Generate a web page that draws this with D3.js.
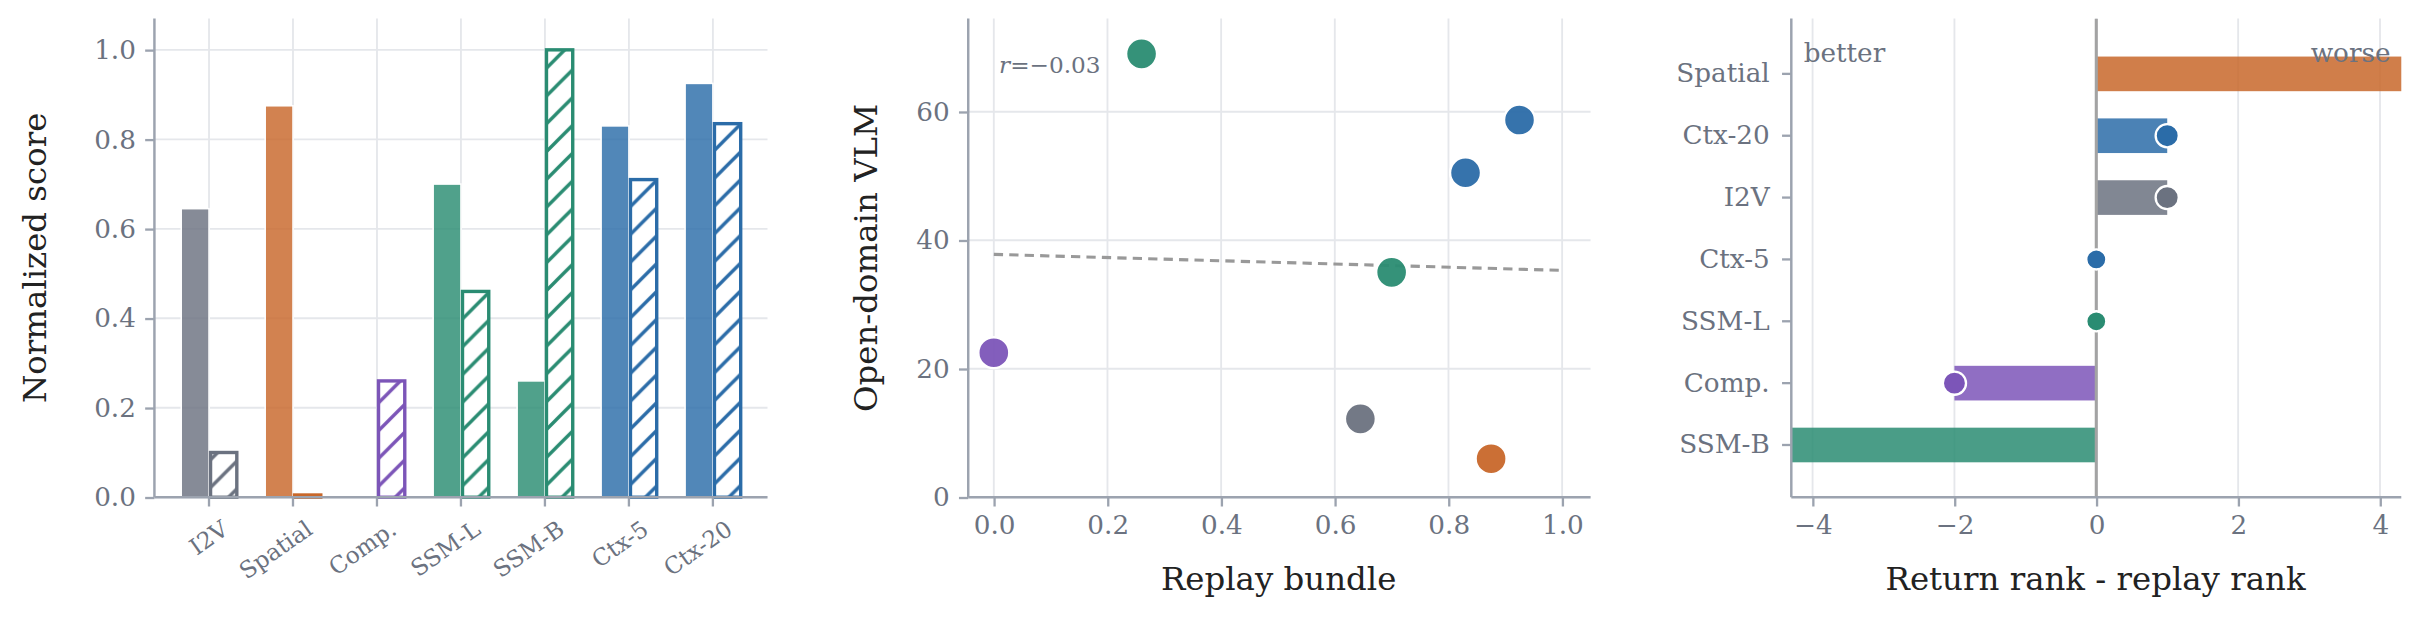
<!DOCTYPE html>
<html><head><meta charset="utf-8">
<script src="https://cdn.jsdelivr.net/npm/d3@7"></script>
<style>body{margin:0;background:#fff}svg{font-family:"DejaVu Serif",serif}</style>
</head><body>
<script>
// data
const models = ["I2V", "Spatial", "Comp.", "SSM-L", "SSM-B", "Ctx-5", "Ctx-20"];
const colors = ["#6b7280", "#c8672a", "#7c55b8", "#2a8c72", "#2a8c72", "#2b6ca8", "#2b6ca8"];
const replayScore = [0.645, 0.875, 0.0, 0.70, 0.26, 0.83, 0.925];
const vlmNorm = [0.10, 0.005, 0.26, 0.46, 1.0, 0.71, 0.835];
const vlmRaw = [12.2, 6.0, 22.5, 35.0, 69.0, 50.5, 58.7];
const fitLine = [[0, 37.8], [1, 35.3]];
const rankOrder = ["Spatial", "Ctx-20", "I2V", "Ctx-5", "SSM-L", "Comp.", "SSM-B"];
const rankDiff = [5, 1, 1, 0, 0, -2, -5];

const W = 2409, H = 629;
const svgRoot = d3.select("body").append("svg").attr("width", W).attr("height", H);
const defs = svgRoot.append("defs");
// layout below is in a 1560-wide frame, scaled up to the page
const svg = svgRoot.append("g").attr("transform", "scale(" + (W / 1560) + ")");
const tickCol = "#6b7280", spineCol = "#9ca3af", gridCol = "#e5e7eb";

function colorOf(m) { return colors[models.indexOf(m)]; }

function styleAxis(g) {
  g.attr("font-family", null).attr("font-size", null);
  g.selectAll(".domain").remove();
  g.selectAll("line").attr("stroke", spineCol).attr("stroke-width", 1.5);
  g.selectAll("text").attr("fill", tickCol).style("font-size", "17px");
}
function spines(g, x0, x1, y0, y1) {
  g.append("line").attr("x1", x0).attr("x2", x0).attr("y1", y0).attr("y2", y1).attr("stroke", spineCol).attr("stroke-width", 1.6);
  g.append("line").attr("x1", x0).attr("x2", x1).attr("y1", y1).attr("y2", y1).attr("stroke", spineCol).attr("stroke-width", 1.6);
}

// ---------- panel 1: bars ----------
{
  const g = svg.append("g");
  const x = d3.scaleBand().domain(models).range([100, 497]).paddingInner(0).paddingOuter(0.15);
  const y = d3.scaleLinear().domain([0, 1.07]).range([322, 12]);
  const bw = 18;
  g.append("g").selectAll("line").data(y.ticks(5)).join("line")
    .attr("x1", 100).attr("x2", 497).attr("y1", d => y(d)).attr("y2", d => y(d)).attr("stroke", gridCol).attr("stroke-width", 1.2);
  g.append("g").selectAll("line").data(models).join("line")
    .attr("x1", d => x(d) + x.bandwidth() / 2).attr("x2", d => x(d) + x.bandwidth() / 2)
    .attr("y1", 12).attr("y2", 322).attr("stroke", gridCol).attr("stroke-width", 1.2);
  models.forEach((m, i) => {
    const p = defs.append("pattern").attr("id", "hatch" + i).attr("patternUnits", "userSpaceOnUse")
      .attr("width", 18).attr("height", 18).attr("patternTransform", "translate(0,2)");
    p.append("rect").attr("width", 18).attr("height", 18).attr("fill", "#fff");
    p.append("path").attr("d", "M-2,20 L20,-2 M-2,2 L2,-2 M16,20 L20,16").attr("stroke", colors[i]).attr("stroke-width", 2.2);
  });
  const cx = d => x(d) + x.bandwidth() / 2;
  g.selectAll(".solid").data(models).join("rect")
    .attr("x", d => cx(d) - bw).attr("width", bw)
    .attr("y", (d, i) => y(replayScore[i])).attr("height", (d, i) => y(0) - y(replayScore[i]))
    .attr("fill", (d, i) => colors[i]).attr("fill-opacity", 0.82).attr("stroke", "#fff").attr("stroke-width", 1);
  g.selectAll(".hatch").data(models).join("rect")
    .attr("x", d => cx(d) + 1).attr("width", bw - 1)
    .attr("y", (d, i) => y(vlmNorm[i])).attr("height", (d, i) => y(0) - y(vlmNorm[i]))
    .attr("fill", (d, i) => "url(#hatch" + i + ")").attr("stroke", (d, i) => colors[i]).attr("stroke-width", 2.2);
  const ya = g.append("g").attr("transform", "translate(100,0)").call(d3.axisLeft(y).ticks(5).tickFormat(d3.format(".1f")).tickSize(6).tickPadding(6));
  styleAxis(ya);
  const xa = g.append("g").attr("transform", "translate(0,322)").call(d3.axisBottom(x).tickSize(6).tickPadding(4));
  styleAxis(xa);
  xa.selectAll("text").attr("text-anchor", "end").style("font-size", "15px").attr("transform", "rotate(-35) translate(-2,6)");
  spines(g, 100, 497, 12, 322);
  g.append("text").attr("transform", "translate(30,167) rotate(-90)").attr("text-anchor", "middle")
    .attr("fill", "#222").style("font-size", "21px").text("Normalized score");
}

// ---------- panel 2: scatter ----------
{
  const g = svg.append("g");
  const x = d3.scaleLinear().domain([-0.045, 1.05]).range([627, 1030]);
  const y = d3.scaleLinear().domain([0, 74.5]).range([322, 12]);
  g.selectAll(".gx").data(x.ticks(5)).join("line")
    .attr("x1", d => x(d)).attr("x2", d => x(d)).attr("y1", 12).attr("y2", 322).attr("stroke", gridCol).attr("stroke-width", 1.2);
  g.selectAll(".gy").data([0, 20, 40, 60]).join("line")
    .attr("x1", 627).attr("x2", 1030).attr("y1", d => y(d)).attr("y2", d => y(d)).attr("stroke", gridCol).attr("stroke-width", 1.2);
  g.append("path").datum(fitLine).attr("d", d3.line().x(d => x(d[0])).y(d => y(d[1])))
    .attr("stroke", "#999").attr("stroke-width", 2).attr("stroke-dasharray", "6,4").attr("fill", "none");
  g.selectAll("circle").data(models).join("circle")
    .attr("cx", (d, i) => x(replayScore[i])).attr("cy", (d, i) => y(vlmRaw[i])).attr("r", 10)
    .attr("fill", (d, i) => colors[i]).attr("fill-opacity", 0.95).attr("stroke", "#fff").attr("stroke-width", 1.5);
  const ya = g.append("g").attr("transform", "translate(627,0)").call(d3.axisLeft(y).tickValues([0, 20, 40, 60]).tickSize(6).tickPadding(6));
  styleAxis(ya);
  const xa = g.append("g").attr("transform", "translate(0,322)").call(d3.axisBottom(x).ticks(5).tickFormat(d3.format(".1f")).tickSize(6).tickPadding(6));
  styleAxis(xa);
  spines(g, 627, 1030, 12, 322);
  g.append("text").attr("x", 647).attr("y", 47).attr("fill", tickCol).style("font-size", "15px")
    .html('<tspan font-style="italic">r</tspan>=\u22120.03');
  g.append("text").attr("transform", "translate(568,167) rotate(-90)").attr("text-anchor", "middle")
    .attr("fill", "#222").style("font-size", "21px").text("Open-domain VLM");
  g.append("text").attr("x", 828).attr("y", 382).attr("text-anchor", "middle")
    .attr("fill", "#222").style("font-size", "21px").text("Replay bundle");
}

// ---------- panel 3: rank diff ----------
{
  const g = svg.append("g");
  const x = d3.scaleLinear().domain([-4.3, 4.3]).range([1160, 1555]);
  const y = d3.scaleBand().domain(rankOrder).range([19, 317]).padding(0.44);
  defs.append("clipPath").attr("id", "clip3").append("rect").attr("x", 1160).attr("y", 12).attr("width", 395).attr("height", 310);
  g.selectAll(".gx").data([-4, -2, 0, 2, 4]).join("line")
    .attr("x1", d => x(d)).attr("x2", d => x(d)).attr("y1", 12).attr("y2", 322).attr("stroke", gridCol).attr("stroke-width", 1.2);
  const c = g.append("g").attr("clip-path", "url(#clip3)");
  c.selectAll("rect").data(rankOrder).join("rect")
    .attr("x", (d, i) => x(Math.min(0, rankDiff[i]))).attr("width", (d, i) => Math.abs(x(rankDiff[i]) - x(0)))
    .attr("y", d => y(d)).attr("height", y.bandwidth())
    .attr("fill", d => colorOf(d)).attr("fill-opacity", 0.85);
  c.append("line").attr("x1", x(0)).attr("x2", x(0)).attr("y1", 12).attr("y2", 322).attr("stroke", "#a3a3a3").attr("stroke-width", 2);
  c.selectAll("circle").data(rankOrder).join("circle")
    .attr("cx", (d, i) => x(rankDiff[i])).attr("cy", d => y(d) + y.bandwidth() / 2)
    .attr("r", (d, i) => rankDiff[i] === 0 ? 6.5 : 7.5)
    .attr("fill", d => colorOf(d)).attr("stroke", "#fff").attr("stroke-width", 1.5);
  const ya = g.append("g").attr("transform", "translate(1160,0)").call(d3.axisLeft(y).tickSize(6).tickPadding(8));
  styleAxis(ya);
  ya.selectAll("text").style("font-size", "17px");
  const xa = g.append("g").attr("transform", "translate(0,322)")
    .call(d3.axisBottom(x).tickValues([-4, -2, 0, 2, 4]).tickFormat(d => d < 0 ? "\u2212" + (-d) : d).tickSize(6).tickPadding(6));
  styleAxis(xa);
  spines(g, 1160, 1555, 12, 322);
  g.append("text").attr("x", 1168).attr("y", 40).attr("fill", tickCol).style("font-size", "17px").text("better");
  g.append("text").attr("x", 1548).attr("y", 40).attr("text-anchor", "end").attr("fill", tickCol).style("font-size", "17px").text("worse");
  g.append("text").attr("x", 1357).attr("y", 382).attr("text-anchor", "middle")
    .attr("fill", "#222").style("font-size", "21px").text("Return rank - replay rank");
}
</script>
</body></html>
